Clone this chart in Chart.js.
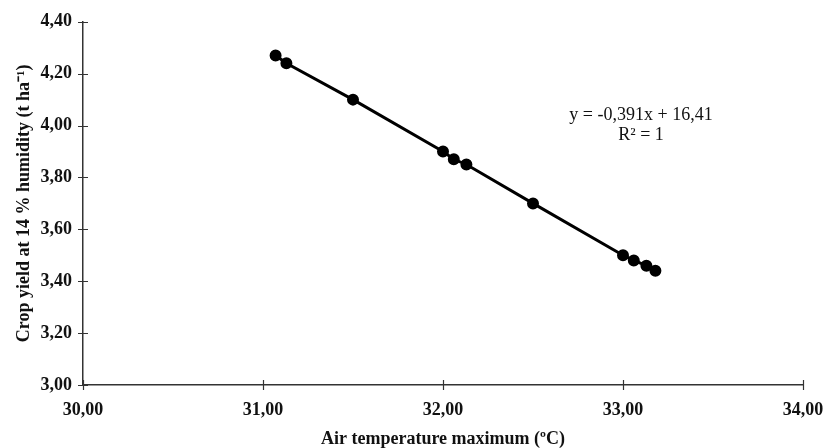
<!DOCTYPE html>
<html>
<head>
<meta charset="utf-8">
<script src="https://cdn.jsdelivr.net/npm/chart.js@4"></script>
<style>
html,body{margin:0;padding:0;background:#fff;}
#wrap{width:827px;height:448px;}
</style>
</head>
<body>
<div id="wrap"><canvas id="c" width="827" height="448"></canvas></div>
<script>
const temperature = [31.07, 31.13, 31.50, 32.00, 32.06, 32.13, 32.50, 33.00, 33.06, 33.13, 33.18];
const cropYield   = [4.27, 4.24, 4.10, 3.90, 3.87, 3.85, 3.70, 3.50, 3.48, 3.46, 3.44];
const xTicks = [30, 31, 32, 33, 34];
const yTicks = [3.0, 3.2, 3.4, 3.6, 3.8, 4.0, 4.2, 4.4];
const equationLines = ["y = -0,391x + 16,41", "R\u00B2 = 1"];
const xTitle = "Air temperature maximum (\u00BAC)";
const yTitle = "Crop yield at 14 % humidity (t ha\u207B\u00B9)";

const points = temperature.map((t, i) => ({x: t, y: cropYield[i]}));
const fmt = v => Number(v).toFixed(2).replace('.', ',');
const FONT = "'Liberation Serif', 'Times New Roman', serif";

const crossTicks = {
  id: 'crossTicks',
  afterDraw(chart) {
    const ctx = chart.ctx;
    const xs = chart.scales.x, ys = chart.scales.y;
    const ca = chart.chartArea;
    ctx.save();
    ctx.strokeStyle = '#333';
    ctx.lineWidth = 1.2;
    ctx.beginPath();
    xTicks.forEach(v => {
      const px = Math.round(xs.getPixelForValue(v)) + 0.5;
      ctx.moveTo(px, ca.bottom - 5);
      ctx.lineTo(px, ca.bottom + 5);
    });
    yTicks.forEach(v => {
      const py = Math.round(ys.getPixelForValue(v)) + 0.5;
      ctx.moveTo(ca.left - 5, py);
      ctx.lineTo(ca.left + 5, py);
    });
    ctx.stroke();
    // equation
    ctx.fillStyle = '#111';
    ctx.font = "18px " + FONT;
    ctx.textAlign = 'center';
    ctx.textBaseline = 'middle';
    const ex = xs.getPixelForValue(33.1), ey = ys.getPixelForValue(4.04);
    ctx.fillText(equationLines[0], ex, ey);
    ctx.fillText(equationLines[1], ex, ey + 20);
    ctx.restore();
  }
};

new Chart(document.getElementById('c'), {
  type: 'scatter',
  data: {
    datasets: [{
      data: points,
      showLine: true,
      borderColor: '#000',
      borderWidth: 3,
      backgroundColor: '#000',
      pointBackgroundColor: '#000',
      pointBorderColor: '#000',
      pointRadius: 4.5,
      pointHoverRadius: 4.5,
      fill: false
    }]
  },
  options: {
    responsive: false,
    animation: false,
    events: [],
    layout: {padding: {left: 0, right: 24, top: 16, bottom: 0}},
    plugins: {legend: {display: false}, tooltip: {enabled: false}},
    scales: {
      x: {
        type: 'linear',
        min: 30, max: 34,
        afterBuildTicks: s => { s.ticks = xTicks.map(v => ({value: v})); },
        afterFit: s => { s.height = 63; s.paddingLeft = 0; s.paddingRight = 0; },
        grid: {display: true, drawOnChartArea: false, drawTicks: false, color: '#333'},
        border: {display: true, color: '#333', width: 1.5},
        ticks: {color: '#111', padding: 15, font: {family: FONT, size: 18, weight: 'bold'}, callback: v => fmt(v), maxRotation: 0},
        title: {display: true, text: xTitle, color: '#111', font: {family: FONT, size: 18, weight: 'bold', lineHeight: 1.0}, padding: {top: 4, bottom: 0}}
      },
      y: {
        type: 'linear',
        min: 3.0, max: 4.4,
        afterBuildTicks: s => { s.ticks = yTicks.map(v => ({value: v})); },
        afterFit: s => { s.width = 83; },
        grid: {display: true, drawOnChartArea: false, drawTicks: false, color: '#333'},
        border: {display: true, color: '#333', width: 1.5},
        ticks: {color: '#111', padding: 11, font: {family: FONT, size: 18, weight: 'bold'}, callback: v => fmt(v)},
        title: {display: true, text: yTitle, color: '#111', font: {family: FONT, size: 18, weight: 'bold', lineHeight: 1.0}, padding: {top: 15, bottom: 0}}
      }
    }
  },
  plugins: [crossTicks]
});
</script>
</body>
</html>
